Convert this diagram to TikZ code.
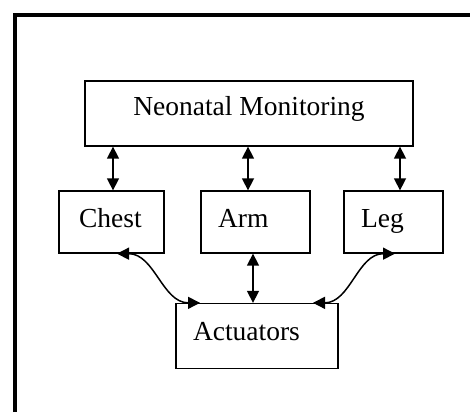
\documentclass[tikz,border=0pt]{standalone}
\usepackage{fontspec}
\setmainfont{Liberation Serif}
\usetikzlibrary{arrows.meta,calc}

\begin{document}
\begin{tikzpicture}[x=1pt,y=-1pt,
	box/.style={draw, line width=1.3pt, inner sep=0pt, text height=18pt,
		font=\fontsize{27.5}{33}\selectfont},
	lbox/.style={box, align=left, inner xsep=17pt, text width=#1},
	link/.style={line width=1.5pt, {Triangle[length=12pt,width=12pt]}-{Triangle[length=12pt,width=12pt]}}]

\useasboundingbox (0,0) rectangle (470,412);
\draw[line width=4pt] (14.5,412) -- (14.5,15.3) -- (470,15.3);

\node[box, minimum width=328, minimum height=65, text depth=15pt] (neo) at (249,113.5) {Neonatal Monitoring};

\node[lbox=65pt, inner xsep=20pt, minimum height=62, text depth=8pt] (chest) at (111.5,222) {Chest};
\node[lbox=75pt, minimum height=62, text depth=8pt] (arm) at (255.5,222) {Arm};
\node[lbox=65pt, minimum height=62, text depth=8pt] (leg) at (393.5,222) {Leg};

\node[lbox=128pt, minimum height=65, text depth=10pt] (act) at (257,336) {Actuators};

\coordinate (nc) at ([xshift=1.5]chest.north);
\coordinate (na) at ([xshift=-7.5]arm.north);
\coordinate (nl) at ([xshift=6.5]leg.north);
\foreach \c in {nc,na,nl} {
	\draw[link] (\c |- neo.south) -- (\c);
}

\coordinate (am) at ([xshift=-2.5]arm.south);
\draw[link] (am) -- (am |- act.north);

\coordinate (ca) at ([xshift=5.5]chest.south);
\coordinate (ac) at ([xshift=-57]act.north);
\draw[link] (ca) to[out=0,in=180] (ac);

\coordinate (la) at ([xshift=1.5]leg.south);
\coordinate (al) at ([xshift=56]act.north);
\draw[link] (la) to[out=180,in=0] (al);

\end{tikzpicture}
\end{document}
